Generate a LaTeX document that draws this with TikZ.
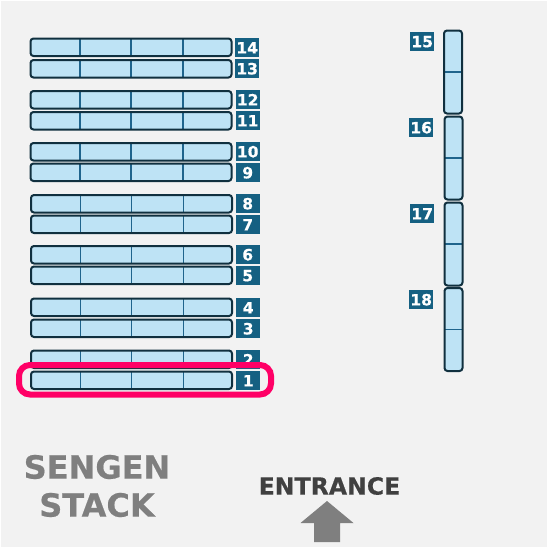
\documentclass[tikz,border=0pt]{standalone}
\usepackage{fontspec}
\setmainfont[BoldFeatures={FakeBold=0.5}]{DejaVu Sans}
\usepackage{xcolor}
\usepackage{tikz}
\usetikzlibrary{calc}
\definecolor{panel}{HTML}{F2F2F2}
\definecolor{barfill}{HTML}{BEE3F5}
\definecolor{barline}{HTML}{10303F}
\definecolor{divline}{HTML}{1F648C}
\definecolor{tagblue}{HTML}{156082}
\definecolor{marker}{HTML}{FF0066}
\definecolor{arrowgrey}{HTML}{7F7F7F}
\definecolor{entrytext}{HTML}{404040}

\begin{document}
\begin{tikzpicture}[
          x=1pt,y=-1pt,
          hbar/.style={draw=barline,fill=barfill,line width=2pt,rounded corners=3pt,
                       minimum width=201pt,minimum height=17.5pt,inner sep=0pt,anchor=north west,
                       path picture={
                         \draw[divline,line width=1.6pt]
                           ($(path picture bounding box.north west)+(49.5,0)$) --
                           ($(path picture bounding box.south west)+(49.5,0)$)
                           ($(path picture bounding box.north west)+(100.5,0)$) --
                           ($(path picture bounding box.south west)+(100.5,0)$)
                           ($(path picture bounding box.north west)+(152.5,0)$) --
                           ($(path picture bounding box.south west)+(152.5,0)$);}},
          vbar/.style={draw=barline,fill=barfill,line width=2pt,rounded corners=3pt,
                       minimum width=18pt,minimum height=83pt,inner sep=0pt,anchor=north west,
                       path picture={
                         \draw[divline,line width=1.4pt]
                           (path picture bounding box.west) -- (path picture bounding box.east);}},
          tag/.style={fill=tagblue,text=white,font=\fontsize{15.5}{15.5}\selectfont\bfseries,
                      minimum width=24pt,minimum height=19pt,inner sep=0pt,anchor=north west},
      ]
        \useasboundingbox (0,0) rectangle (547,547);
        \fill[panel] (1,1) rectangle (547,547);

        % left stack
        \node[hbar] (r14) at (29.5,37.5) {};
        \node[hbar] (r13) at (29.5,59) {};
        \node[hbar] (r12) at (29.5,90) {};
        \node[hbar] (r11) at (29.5,111) {};
        \node[hbar] (r10) at (29.5,142) {};
        \node[hbar] (r9) at (29.5,162.5) {};
        \node[hbar] (r8) at (30,194) {};
        \node[hbar] (r7) at (30,214.5) {};
        \node[hbar] (r6) at (30,245) {};
        \node[hbar] (r5) at (30,265.5) {};
        \node[hbar] (r4) at (30,297.5) {};
        \node[hbar] (r3) at (30,318.5) {};
        \node[hbar] (r2) at (30,349.5) {};
        \node[hbar] (r1) at (30,370.5) {};

        \node[tag] (t14) at (235,38) {14};
        \node[tag] (t13) at (235,59) {13};
        \node[tag] (t12) at (235.5,90) {12};
        \node[tag] (t11) at (235.5,111) {11};
        \node[tag] (t10) at (235.5,142) {10};
        \node[tag] (t9) at (235.5,163) {9};
        \node[tag] (t8) at (235.5,194) {8};
        \node[tag] (t7) at (235.5,215) {7};
        \node[tag] (t6) at (235.5,245) {6};
        \node[tag] (t5) at (235.5,266) {5};
        \node[tag] (t4) at (236,298) {4};
        \node[tag] (t3) at (236,319) {3};
        \node[tag] (t2) at (236,350) {2};
        \node[tag] (t1) at (236,371) {1};

        % right stack
        \node[vbar] (r15) at (443,29.5) {};
        \node[vbar] (r16) at (443.5,115.5) {};
        \node[vbar] (r17) at (443.5,201.5) {};
        \node[vbar] (r18) at (443.5,287) {};

        \node[tag] (t15) at (410,32) {15};
        \node[tag] (t16) at (409,118) {16};
        \node[tag] (t17) at (410,204) {17};
        \node[tag] (t18) at (409,290) {18};

        % highlight
        \node[draw=marker,line width=6pt,rounded corners=11pt,minimum width=252pt,minimum height=29.5pt,
              inner sep=0pt,anchor=north west] (mark) at (16,362) {};

        \node[text=arrowgrey,font=\fontsize{32}{38}\selectfont\bfseries,align=center,inner sep=0pt]
          (stack) at (97,486) {SENGEN\\STACK};
        \node[text=entrytext,font=\fontsize{23.6}{24}\selectfont\bfseries,inner sep=0pt]
          (entry) at (329.5,486) {ENTRANCE};
        \fill[arrowgrey] (327,501) -- (353.5,523) -- (340,523) -- (340,542) -- (314,542)
          -- (314,523) -- (300.5,523) -- cycle;
      \end{tikzpicture}
\end{document}
